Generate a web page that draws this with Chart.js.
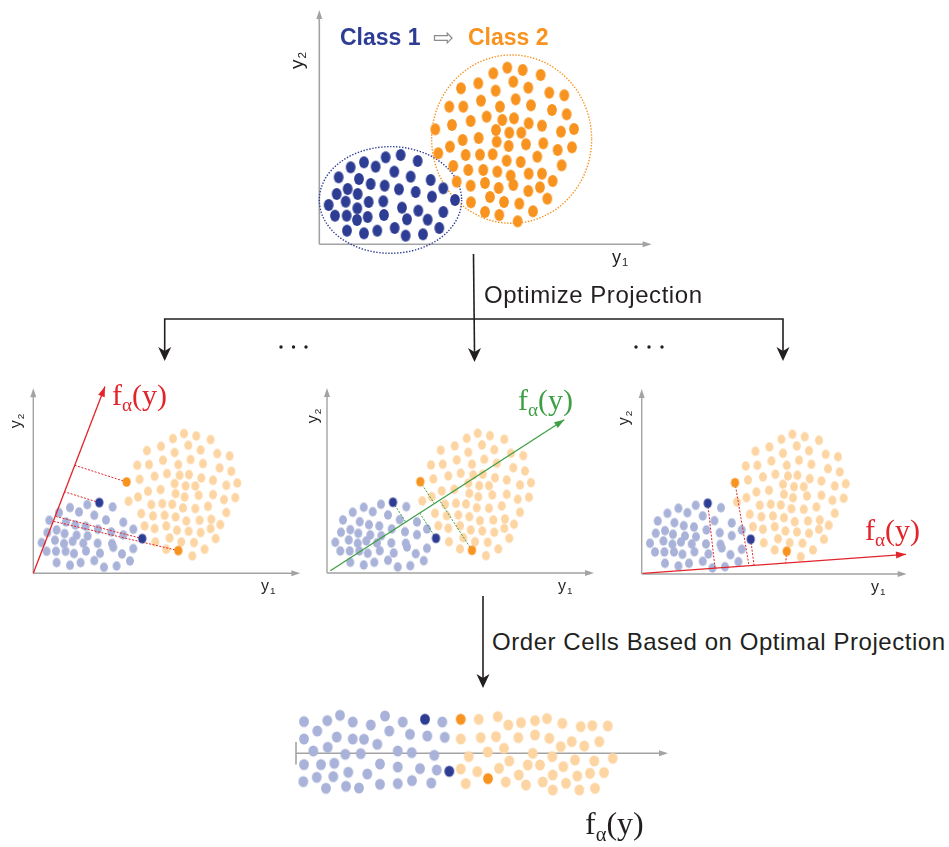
<!DOCTYPE html>
<html>
<head>
<meta charset="utf-8">
<script src="https://cdn.jsdelivr.net/npm/chart.js@4.4.1/dist/chart.umd.min.js"></script>
<style>
body { margin: 0; background: #fff; }
#page { position: relative; width: 949px; height: 847px; overflow: hidden; background: #fff;
        font-family: "Liberation Sans", Arial, sans-serif; color: #231f20; }
#page canvas { position: absolute; }
#flow { position: absolute; left: 0; top: 0; }
.lbl { position: absolute; white-space: nowrap; line-height: 1; }
.f { font-family: "Liberation Serif", "DejaVu Serif", serif; }
.f sub { font-size: 0.64em; vertical-align: baseline; position: relative; top: 0.32em; }
.yl sub { font-size: 0.62em; vertical-align: baseline; position: relative; top: 0.28em; margin-left: 1px; }
.rot { text-align: center; transform: rotate(-90deg); }
</style>
</head>
<body>
<div id="page">
  <svg id="flow" width="949" height="847">
    <g stroke="#231f20" stroke-width="1.6" fill="none">
      <line x1="473.5" y1="254" x2="474.5" y2="352"/>
      <polyline points="164.7,352 164.7,319 783,319 783,352"/>
      <line x1="483" y1="596" x2="483" y2="678"/>
    </g>
    <g fill="#231f20">
      <path d="M158.2,347 L164.7,361 L171.2,347 L164.7,351 Z"/>
      <path d="M468,348 L474.5,362 L481,348 L474.5,352 Z"/>
      <path d="M776.5,347 L783,361 L789.5,347 L783,351 Z"/>
      <path d="M476.5,674 L483,688 L489.5,674 L483,678 Z"/>
      <circle cx="281" cy="347" r="1.7"/><circle cx="293.5" cy="347" r="1.7"/><circle cx="306" cy="347" r="1.7"/>
      <circle cx="636" cy="347" r="1.7"/><circle cx="649" cy="347" r="1.7"/><circle cx="662" cy="347" r="1.7"/>
    </g>
  </svg>

  <canvas id="topChart"></canvas>
  <canvas id="projA"></canvas>
  <canvas id="projB"></canvas>
  <canvas id="projC"></canvas>
  <canvas id="orderChart"></canvas>

  <div class="lbl" style="left:340px;top:26px;font-size:23px;font-weight:bold;color:#2e3d94">Class 1</div>
  <div class="lbl" style="left:433px;top:25px;font-size:25px;color:#8c8c8c;font-family:'DejaVu Sans'">&#x21E8;</div>
  <div class="lbl" style="left:468px;top:26px;font-size:23px;font-weight:bold;color:#f7931e">Class 2</div>
  <div class="lbl yl" style="left:612px;top:248px;font-size:18px">y<sub>1</sub></div>
  <div class="lbl yl rot" style="left:281px;top:51px;width:30px;height:19px;font-size:19px">y<sub>2</sub></div>

  <div class="lbl" style="left:484px;top:283px;font-size:24px;letter-spacing:0.55px">Optimize Projection</div>

  <div class="lbl yl" style="left:261px;top:578px;font-size:16px">y<sub>1</sub></div>
  <div class="lbl yl" style="left:558px;top:578px;font-size:16px">y<sub>1</sub></div>
  <div class="lbl yl" style="left:871px;top:579px;font-size:16px">y<sub>1</sub></div>
  <div class="lbl yl rot" style="left:3px;top:413px;width:26px;height:16px;font-size:16px">y<sub>2</sub></div>
  <div class="lbl yl rot" style="left:300px;top:408px;width:26px;height:16px;font-size:16px">y<sub>2</sub></div>
  <div class="lbl yl rot" style="left:611px;top:410px;width:26px;height:16px;font-size:16px">y<sub>2</sub></div>

  <div class="lbl f" style="left:112px;top:380px;font-size:30px;color:#e2242b">f<sub>&alpha;</sub>(y)</div>
  <div class="lbl f" style="left:518px;top:385px;font-size:30px;color:#3e9f46">f<sub>&alpha;</sub>(y)</div>
  <div class="lbl f" style="left:865px;top:515px;font-size:30px;color:#e2242b">f<sub>&alpha;</sub>(y)</div>

  <div class="lbl" style="left:492px;top:630px;font-size:24px;letter-spacing:0.55px">Order Cells Based on Optimal Projection</div>
  <div class="lbl f" style="left:585px;top:807px;font-size:32px;color:#231f20">f<sub>&alpha;</sub>(y)</div>
</div>

<script>
// ---- data: top panel (class 1 / class 2 cells in y1,y2 space) ----
const topBlue = [[199,261],[244,268],[295,250],[94,231],[134,246],[169,233],[225,218],[274,203],[334,193],
    [58,201],[119,196],[154,181],[196,176],[239,165],[289,157],[372,168],[52,151],[85,166],[115,151],
    [407,133],[338,143],[28,118],[79,128],[148,127],[192,129],[248,110],[297,101],[372,97],[47,86],
    [82,86],[114,108],[113,73],[145,82],[194,88],[263,75],[325,74],[83,41],[134,33],[174,41],[226,49],
    [259,26],[311,30],[360,49]];
const topOrange = [[564,530],[610,523],[664,508],[522,513],[425,468],[477,483],[529,461],[582,488],[627,470],
    [690,455],[735,447],[390,413],[432,413],[485,431],[542,413],[589,435],[635,417],[698,403],[742,390],
    [348,345],[398,358],[454,370],[502,383],[549,373],[584,378],[628,363],[668,356],[725,338],[764,346],
    [392,293],[430,313],[478,319],[530,343],[570,335],[606,335],[532,308],[568,295],[620,300],[672,303],
    [715,283],[758,291],[357,273],[439,268],[482,269],[520,270],[562,251],[604,247],[654,263],[727,237],
    [402,235],[447,223],[492,223],[534,218],[574,206],[628,212],[668,212],[700,190],[412,188],[454,176],
    [497,184],[538,169],[582,178],[627,160],[662,171],[455,126],[512,142],[554,127],[600,122],[684,137],
    [497,97],[540,88],[641,99],[595,69]];
const ringCenters = [[213.5,133],[577,315.5]];
const ringRadii = [[213.5,160],[240,252.5]];
const topAxisEnd = [997, 703];

// ---- data: projection panels (same cells, four highlighted) ----
const lowBlue = [[54,68.7],[79.3,66.3],[36.7,65.7],[45.7,61.3],[25.7,60.7],[61,58],[16,53],[32.7,51.3],
    [42,48.3],[52.3,47],[72.7,53.3],[90,51],[64.7,44],[14,40.7],[23.3,43.3],[31.3,39.7],[43.3,38],
    [54.3,37.3],[78,41.3],[90,38.3],[100,44],[8.3,30.7],[21.7,33],[30.7,29.7],[39.3,32],[50,30],
    [64.3,30],[78.7,29.7],[13.3,22],[22.7,22],[32.3,22],[40.7,19.7],[52.7,22.3],[66.7,20],[80,26],
    [88.7,19.3],[100,24.7],[23.3,10.7],[36.7,8],[47.3,10.7],[61,12.7],[70.7,6],[83.3,7.3],[96.7,12.3]];
const lowOrange = [[150.7,139.7],[163,137.3],[139.7,134.7],[177.3,133.7],[127.7,127],[155,128],[113.7,122.7],
    [141.3,120.7],[167.3,123.3],[184,119.7],[196.3,117.3],[104,108],[115.7,108.7],[129.7,113],[145,108.7],
    [157.3,113.7],[169.7,109.7],[186.3,105.3],[198,102],[106.3,94],[121.3,97],[133.7,99.7],[146.3,98],
    [155.7,98.7],[168,95.3],[179.7,93],[193,88],[204,90.3],[95.3,72],[104.7,76.3],[114.7,82],[127.3,83.7],
    [141.3,89.7],[152.3,87.3],[162,87.3],[142.3,79.7],[151.3,76.3],[165.3,78],[179.7,78.7],[190.7,73.7],
    [202,75.7],[108,59.7],[118,68.7],[129,69.7],[139,69],[149.7,65.3],[162,64.7],[174.7,67],[193,60.7],
    [119.7,57.3],[131.3,58],[142.3,56.3],[153,52.3],[166.3,53],[178,54],[187,48.7],[111.3,47.3],
    [121.3,44.7],[133,47.3],[143.7,43],[155.3,42],[167.3,40.7],[177.3,44.7],[182.3,34.7],[122,31.3],
    [136.3,35.3],[148,31.3],[160.7,30.7],[171.3,24],[133,24],[159,17.3]];
// highlighted cells: blue upper, blue lower, orange upper, orange lower
const highlights = [[66,70.7],[109,34.7],[93.3,91.3],[145,22.7]];
const lowAxisEnd = [267, 185];

// projection direction f_alpha(y) and the feet of the highlighted cells on it
const dirA = [[0,0],[71.7,186.7]];
const feetA = [[31.3,81.5],[22,57],[41.5,108],[20,52]];
const dirB = [[3.3,2.3],[237.3,153.3]];
const feetB = [[78.7,51],[92.7,60],[107.3,69.4],[112.5,72.8]];
const dirC = [[1,0.7],[264.3,19.7]];
const feetC = [[73.3,5.9],[112.3,8.7],[107.3,8.3],[144,11]];

// ---- data: cells ordered along f_alpha(y) ----
const ordBlue = [[8,31.7],[31.3,32.7],[44,38],[56.7,31.3],[74.7,28.3],[89,37.3],[106.7,31.3],[146.3,31.3],
    [8,14.3],[21.3,22.3],[40.7,16.3],[56.7,14.3],[68,14],[81.3,9],[93.3,22.3],[114,19],[131.3,17.3],
    [148.7,16],[17.3,2.3],[31.7,6],[49.3,-1],[64.7,-0.3],[101.7,2.3],[115.7,0.7],[138.3,-2],[8,-11.3],
    [25,-11.3],[38.3,-10],[52.3,-19],[71.3,-20.7],[84,-10.7],[101.7,-13.7],[124,-15.3],[140.7,-16.7],
    [7.3,-28.3],[20.7,-24],[37.3,-23.3],[30,-35],[50,-33],[63,-34.7],[84,-31],[101.7,-30.3],[116,-27.3],
    [135.3,-29.7]];
const ordOrange = [[164.7,14.3],[182.7,34],[201.7,36.7],[212.3,28.3],[225,30.7],[239,32.7],[251,34.7],
    [266.3,30],[284.7,26.7],[296.3,27.7],[311.7,27.3],[184.7,15.7],[200,16.7],[222.3,15.7],[239,18.3],
    [253.3,15],[264.7,6.7],[275.7,11.7],[288.3,7.3],[303.3,11.7],[172.7,-3.3],[191.7,1.3],[208,5],
    [213.3,-7.7],[236.7,0],[256.3,-3.3],[279,-6.7],[298.3,-7.7],[316.7,-5],[164.7,-15.7],[181.3,-18.3],
    [203,-15],[231.7,-11.7],[244,-11.7],[267.3,-13.3],[281.3,-22.7],[294,-20],[308,-19.3],[169.7,-30.3],
    [209.7,-28.7],[230,-31.7],[222.7,-21.7],[246.7,-28.7],[256.7,-36.7],[270,-30],[283.3,-36.7],
    [299,-35],[256.7,-21.7]];
const ordBlueHi = [[129,34],[153.3,-18]];
const ordOrangeHi = [[164.7,34],[192,-25.3]];
const ordAxisEnd = 372;

// colours
const BLUE = '#2e3d94', ORANGE = '#f7931e', LBLUE = '#a9b2d8', LORANGE = '#fdd5a3';
const RED = '#e2242b', GREEN = '#3e9f46', AXIS = '#a3a3a3';

// slightly tall ellipse used as point style
function dotImg(color, w, h) {
    const c = document.createElement('canvas');
    c.width = Math.ceil(w) + 2;
    c.height = Math.ceil(h) + 2;
    const g = c.getContext('2d');
    g.fillStyle = color;
    g.beginPath();
    g.ellipse(c.width / 2, c.height / 2, w / 2, h / 2, 0, 0, Math.PI * 2);
    g.fill();
    return c;
}

const pts = arr => arr.map(p => ({ x: p[0], y: p[1] }));

function dots(arr, img, order) {
    return { data: pts(arr), pointStyle: img, pointRadius: 5, showLine: false, clip: false, order: order };
}

function segment(a, b, color, width, dash, order, head) {
    return {
        data: pts([a, b]), showLine: true, pointRadius: 0, borderColor: color, borderWidth: width,
        borderDash: dash, fill: false, clip: false, order: order, arrowHead: head || 0
    };
}

function arrowTip(ctx, x0, y0, x1, y1, len, wid, color) {
    const ang = Math.atan2(y1 - y0, x1 - x0);
    ctx.save();
    ctx.translate(x1, y1);
    ctx.rotate(ang);
    ctx.fillStyle = color;
    ctx.beginPath();
    ctx.moveTo(0, 0);
    ctx.lineTo(-len, -wid / 2);
    ctx.lineTo(-len, wid / 2);
    ctx.closePath();
    ctx.fill();
    ctx.restore();
}

// draws the y1 / y2 axes with arrow heads
const axesPlugin = {
    id: 'axesArrows',
    beforeDatasetsDraw(chart, args, opts) {
        if (!opts || opts.xEnd == null) return;
        const ctx = chart.ctx, xs = chart.scales.x, ys = chart.scales.y;
        const x0 = xs.getPixelForValue(0), y0 = ys.getPixelForValue(0);
        const xe = xs.getPixelForValue(opts.xEnd);
        ctx.save();
        ctx.strokeStyle = AXIS;
        ctx.lineWidth = opts.width || 1.6;
        ctx.beginPath();
        ctx.moveTo(x0, y0);
        ctx.lineTo(xe - 4, y0);
        if (opts.yEnd != null) {
            ctx.moveTo(x0, y0);
            ctx.lineTo(x0, ys.getPixelForValue(opts.yEnd) + 4);
        }
        if (opts.tick) {
            ctx.moveTo(x0, ys.getPixelForValue(-opts.tick));
            ctx.lineTo(x0, ys.getPixelForValue(opts.tick));
        }
        ctx.stroke();
        arrowTip(ctx, x0, y0, xe, y0, 9, 6, AXIS);
        if (opts.yEnd != null) arrowTip(ctx, x0, y0, x0, ys.getPixelForValue(opts.yEnd), 9, 6, AXIS);
        ctx.restore();
    }
};

// dotted ellipses around each class
const ringPlugin = {
    id: 'rings',
    beforeDatasetsDraw(chart, args, opts) {
        if (!opts || !opts.centers) return;
        const ctx = chart.ctx, xs = chart.scales.x, ys = chart.scales.y;
        opts.centers.forEach((c, i) => {
            const cx = xs.getPixelForValue(c[0]), cy = ys.getPixelForValue(c[1]);
            const rx = Math.abs(xs.getPixelForValue(c[0] + opts.radii[i][0]) - cx);
            const ry = Math.abs(ys.getPixelForValue(c[1] + opts.radii[i][1]) - cy);
            ctx.save();
            ctx.strokeStyle = opts.colors[i];
            ctx.lineWidth = 1.4;
            ctx.setLineDash([1.4, 1.6]);
            ctx.beginPath();
            ctx.ellipse(cx, cy, rx, ry, 0, 0, Math.PI * 2);
            ctx.stroke();
            ctx.restore();
        });
    }
};

// arrow head at the end of a projection line
const headPlugin = {
    id: 'heads',
    afterDatasetsDraw(chart) {
        chart.data.datasets.forEach((ds, i) => {
            if (!ds.arrowHead) return;
            const m = chart.getDatasetMeta(i).data;
            const a = m[m.length - 2], b = m[m.length - 1];
            arrowTip(chart.ctx, a.x, a.y, b.x, b.y, ds.arrowHead, ds.arrowHead * 0.7, ds.borderColor);
        });
    }
};

// rect = [left, top, width, height] on the page, origin = page pixel of (0,0), unit = px per data unit
function makePanel(id, rect, origin, unit, datasets, extra) {
    const cv = document.getElementById(id);
    cv.width = rect[2];
    cv.height = rect[3];
    cv.style.left = rect[0] + 'px';
    cv.style.top = rect[1] + 'px';
    return new Chart(cv, {
        type: 'scatter',
        data: { datasets: datasets },
        options: {
            responsive: false,
            animation: false,
            events: [],
            layout: { padding: 0, autoPadding: false },
            scales: {
                x: { type: 'linear', display: false, bounds: 'data',
                     min: (rect[0] - origin[0]) / unit, max: (rect[0] + rect[2] - origin[0]) / unit },
                y: { type: 'linear', display: false, bounds: 'data',
                     min: (origin[1] - rect[1] - rect[3]) / unit, max: (origin[1] - rect[1]) / unit }
            },
            plugins: {
                legend: { display: false },
                tooltip: { enabled: false },
                axesArrows: extra.axes,
                rings: extra.rings || {}
            }
        },
        plugins: [axesPlugin, ringPlugin, headPlugin]
    });
}

// top panel
const bigBlue = dotImg(BLUE, 9.8, 11.8), bigOrange = dotImg(ORANGE, 9.8, 11.8);
makePanel('topChart', [295, 0, 380, 262], [319.3, 244.3], 1 / 3,
    [dots(topBlue, bigBlue, 2), dots(topOrange, bigOrange, 1)],
    { axes: { xEnd: topAxisEnd[0], yEnd: topAxisEnd[1] },
      rings: { centers: ringCenters, radii: ringRadii, colors: [BLUE, ORANGE] } });

// projection panels
const smBlue = dotImg(LBLUE, 8, 9.4), smOrange = dotImg(LORANGE, 8, 9.4);
const hiBlue = dotImg(BLUE, 8.2, 9.6), hiOrange = dotImg(ORANGE, 8.2, 9.6);

function projDatasets(dir, feet, color) {
    const ds = [dots(lowBlue, smBlue, 6), dots(lowOrange, smOrange, 6)];
    feet.forEach((f, i) => ds.push(segment(highlights[i], f, color, 1, [2, 1.5], 4)));
    ds.push(segment(dir[0], dir[1], color, 1.3, [], 3, 10));
    ds.push(dots(highlights.slice(0, 2), hiBlue, 1));
    ds.push(dots(highlights.slice(2), hiOrange, 1));
    return ds;
}

makePanel('projA', [0, 370, 310, 225], [33.3, 573.3], 1,
    projDatasets(dirA, feetA, RED), { axes: { xEnd: lowAxisEnd[0], yEnd: lowAxisEnd[1], width: 1.4 } });
makePanel('projB', [315, 370, 305, 225], [327, 573], 1,
    projDatasets(dirB, feetB, GREEN), { axes: { xEnd: lowAxisEnd[0], yEnd: lowAxisEnd[1], width: 1.4 } });
makePanel('projC', [625, 370, 324, 225], [641.7, 574], 1,
    projDatasets(dirC, feetC, RED), { axes: { xEnd: lowAxisEnd[0] - 2, yEnd: lowAxisEnd[1], width: 1.4 } });

// ordered cells
const ordB = dotImg(LBLUE, 9.8, 11.2), ordO = dotImg(LORANGE, 9.8, 11.2);
const ordBH = dotImg(BLUE, 9.8, 11.2), ordOH = dotImg(ORANGE, 9.8, 11.2);
makePanel('orderChart', [285, 695, 400, 115], [296, 753.3], 1,
    [dots(ordBlue, ordB, 2), dots(ordOrange, ordO, 2), dots(ordBlueHi, ordBH, 1), dots(ordOrangeHi, ordOH, 1)],
    { axes: { xEnd: ordAxisEnd, yEnd: null, tick: 11.3, width: 1.6 } });
</script>
</body>
</html>
